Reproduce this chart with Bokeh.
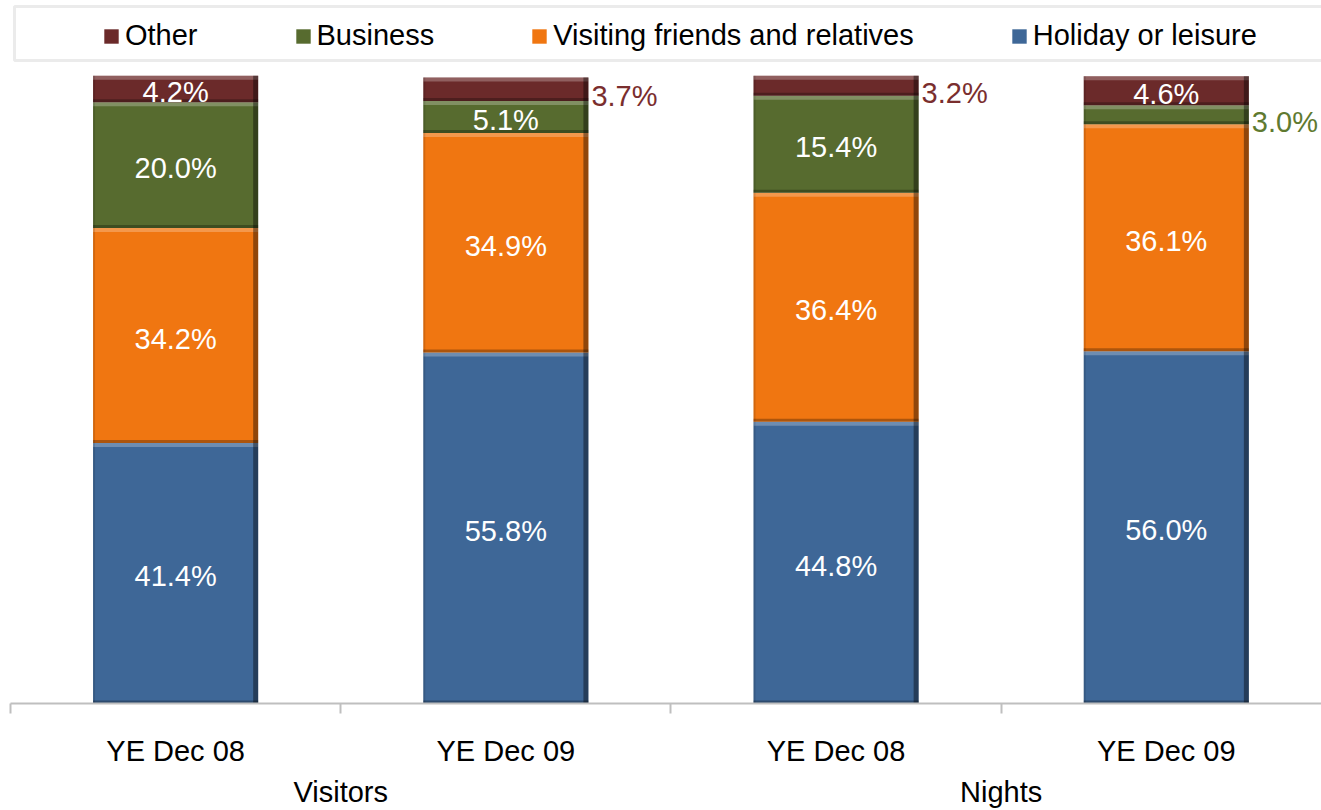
from bokeh.plotting import figure
from bokeh.models import (Range1d, LinearAxis, FixedTicker, Legend, LegendItem,
                          BoxAnnotation, ColumnDataSource)
from bokeh.core.properties import value
from bokeh.embed import file_html
from bokeh.resources import INLINE

# ---- data -------------------------------------------------------------
periods = ["YE Dec 08", "YE Dec 09", "YE Dec 08", "YE Dec 09"]
groups = ["Visitors", "Nights"]
series = ["Holiday or leisure", "Visiting friends and relatives", "Business", "Other"]
holiday = [41.4, 55.8, 44.8, 56.0]
vfr = [34.2, 34.9, 36.4, 36.1]
business = [20.0, 5.1, 15.4, 3.0]
other = [4.2, 3.7, 3.2, 4.6]
# (bar index, series) whose value label sits to the right of the bar
outside_labels = [(1, "Other"), (2, "Other"), (3, "Business")]

# ---- styling -------------------------------------------------------------
FONT = "Liberation Sans"
fills = {"Holiday or leisure": "#3e6797",
         "Visiting friends and relatives": "#f07611",
         "Business": "#576b2f",
         "Other": "#6b2a2a"}
label_colors = {"Other": "#7a2e2e", "Business": "#5f7a30"}

W, H = 1321, 810
FRAME_W, FRAME_H = 1311, 703
X_END = 3.97
Y_END = 111.76
PX_X = X_END / FRAME_W
PX_Y = Y_END / FRAME_H
BAR_W = 0.5

p = figure(width=W, height=H, output_backend="svg", toolbar_location=None,
           x_range=Range1d(0, X_END), y_range=Range1d(0, Y_END),
           x_axis_type=None, y_axis_type=None,
           min_border_left=10, min_border_right=0, min_border_top=0, min_border_bottom=0)
p.outline_line_color = None
p.grid.visible = False
p.background_fill_color = "white"
p.border_fill_color = "white"

values = {"Holiday or leisure": holiday, "Visiting friends and relatives": vfr,
          "Business": business, "Other": other}
centers = [i + 0.5 for i in range(len(periods))]

# legend frame
p.add_layout(BoxAnnotation(left=4 * PX_X, right=X_END + 0.2,
                           bottom=Y_END - 60 * PX_Y, top=Y_END - 6 * PX_Y,
                           fill_color="white", fill_alpha=1.0,
                           line_color="#bdbdbd", line_width=3))

renderers = {}
seg_info = []
base = [0.0] * len(periods)
for name in series:
    vals = values[name]
    lefts = [c - BAR_W / 2 for c in centers]
    rights = [c + BAR_W / 2 for c in centers]
    bottoms = list(base)
    tops = [b + v for b, v in zip(base, vals)]
    src = ColumnDataSource(dict(left=lefts, right=rights, bottom=bottoms, top=tops))
    r = p.quad(left="left", right="right", bottom="bottom", top="top", source=src,
               fill_color=fills[name], line_color=None)
    renderers[name] = r
    # bevel: light top band, dark bottom band, dark right edge, faint left edge
    p.quad(left=lefts, right=rights, bottom=[t - 4 * PX_Y for t in tops], top=tops,
           fill_color="white", fill_alpha=0.25, line_color=None)
    p.quad(left=lefts, right=rights, bottom=bottoms, top=[b + 3 * PX_Y for b in bottoms],
           fill_color="black", fill_alpha=0.28, line_color=None)
    p.quad(left=[r_ - 5 * PX_X for r_ in rights], right=rights, bottom=bottoms, top=tops,
           fill_color="black", fill_alpha=0.4, line_color=None)
    p.quad(left=lefts, right=[l + 2 * PX_X for l in lefts], bottom=bottoms, top=tops,
           fill_color="black", fill_alpha=0.12, line_color=None)
    for i, v in enumerate(vals):
        seg_info.append((i, name, v, bottoms[i] + v / 2))
    base = tops

# value labels
inside = dict(x=[], y=[], t=[])
outside = dict(x=[], y=[], t=[], c=[])
for i, name, v, mid in seg_info:
    txt = f"{v:.1f}%"
    if (i, name) in outside_labels:
        outside["x"].append(centers[i] + BAR_W / 2 + 3 * PX_X)
        outside["y"].append(mid)
        outside["t"].append(txt)
        outside["c"].append(label_colors[name])
    else:
        inside["x"].append(centers[i])
        inside["y"].append(mid)
        inside["t"].append(txt)

p.text(x="x", y="y", text="t", source=ColumnDataSource(inside),
       text_font=value(FONT), text_font_size="29px", text_color="white",
       text_align="center", text_baseline="middle", y_offset=3)
p.text(x="x", y="y", text="t", source=ColumnDataSource(outside),
       text_font=value(FONT), text_font_size="29px", text_color="c",
       text_align="left", text_baseline="middle", y_offset=7)

# category axis with separators between bars
ax1 = LinearAxis(ticker=FixedTicker(ticks=centers, minor_ticks=[0, 1, 2, 3, 4]),
                 major_label_overrides={c: t for c, t in zip(centers, periods)})
ax1.axis_line_color = "#bfbfbf"
ax1.axis_line_width = 2
ax1.major_tick_line_color = None
ax1.major_tick_in = 0
ax1.major_tick_out = 0
ax1.minor_tick_in = 0
ax1.minor_tick_out = 10
ax1.minor_tick_line_color = "#bfbfbf"
ax1.minor_tick_line_width = 2
ax1.major_label_standoff = 21
ax1.major_label_text_font = FONT
ax1.major_label_text_font_size = "29px"
ax1.major_label_text_color = "black"
p.add_layout(ax1, "below")

# group axis
group_pos = [1.0, 3.0]
ax2 = LinearAxis(ticker=FixedTicker(ticks=group_pos),
                 major_label_overrides={g: t for g, t in zip(group_pos, groups)})
ax2.axis_line_color = None
ax2.major_tick_line_color = None
ax2.minor_tick_line_color = None
ax2.major_tick_in = 0
ax2.major_tick_out = 0
ax2.major_label_standoff = 6
ax2.major_label_text_font = FONT
ax2.major_label_text_font_size = "29px"
ax2.major_label_text_color = "black"
p.add_layout(ax2, "below")

legend_order = ["Other", "Business", "Visiting friends and relatives", "Holiday or leisure"]
legend = Legend(items=[LegendItem(label=n, renderers=[renderers[n]]) for n in legend_order],
                orientation="horizontal", location=(92, 651),
                glyph_width=18, glyph_height=18, label_standoff=5, spacing=96,
                padding=0, margin=0, border_line_color=None, background_fill_alpha=0,
                label_text_font=FONT, label_text_font_size="29px", label_text_color="black")
p.add_layout(legend, "center")

open("out.html", "w").write(file_html(p, INLINE))
